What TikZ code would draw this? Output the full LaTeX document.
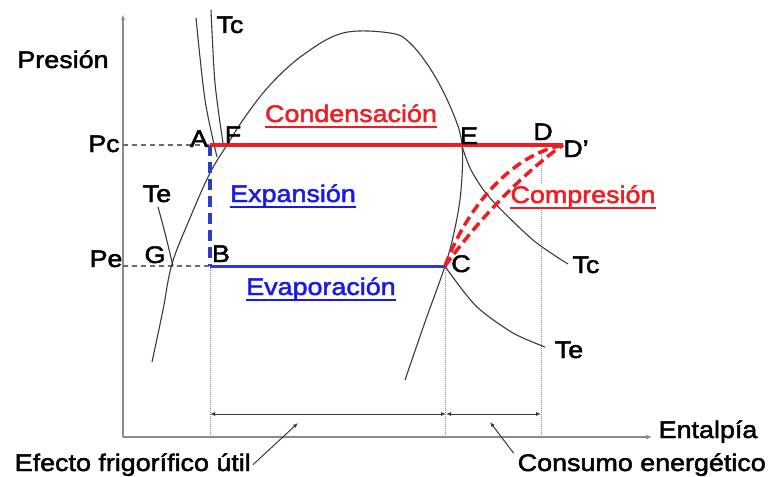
\documentclass[tikz,border=0pt]{standalone}
\usepackage{fontspec}
\setmainfont{Liberation Sans}[FakeStretch=1.12,FakeBold=2]
\usetikzlibrary{arrows.meta,calc}
\definecolor{cond}{HTML}{F01C24}
\definecolor{evap}{HTML}{2E3BD0}
\definecolor{evaptext}{HTML}{1A1AE6}
\definecolor{axisgray}{HTML}{8A8A8A}
\definecolor{curve}{HTML}{3A3A3A}

\begin{document}
\begin{tikzpicture}[x=1pt,y=-1pt,
  font=\fontsize{24}{27}\selectfont,
  lbl/.style={anchor=base,inner sep=0pt},
  guide/.style={axisgray,densely dotted,line width=1pt},
  iso/.style={curve,line width=1.1pt},
  press/.style={curve!75,line width=1.4pt,dash pattern=on 5pt off 4pt},
  dim/.style={curve,line width=1pt,{Latex[length=5pt,width=4pt]}-{Latex[length=5pt,width=4pt]}},
  ptr/.style={curve,line width=1pt,-{Latex[length=5pt,width=4pt]}}]
  \useasboundingbox (0,0) rectangle (770,476);

  % State points
  \coordinate (O) at (123,437);
  \coordinate (ytop) at (123,14);
  \coordinate (xend) at (652,437);
  \coordinate (pcax) at (123,145);
  \coordinate (peax) at (123,266);
  \coordinate (A) at (210,145);
  \coordinate (B) at (210,266);
  \coordinate (C) at (445,266);
  \coordinate (D) at (541,150);
  \coordinate (Dp) at (563,145);

  % Axes
  \draw[axisgray,line width=1.4pt,-{Latex[length=6pt,width=4pt]}] (O) -- (ytop);
  \draw[axisgray,line width=1.4pt,-{Latex[length=6pt,width=5pt]}] (O) -- (xend);
  \draw[press] (pcax) -- (A);
  \draw[press] (peax) -- (B);

  % Guides and widths
  \draw[guide] (B) -- (B |- O);
  \draw[guide] (C) -- (C |- O);
  \draw[guide] (D) -- (D |- O);
  \coordinate (d1) at (210,414);
  \coordinate (d2) at (446,414);
  \coordinate (d3) at (541,414);
  \draw[dim] (d1) -- (d2);
  \draw[dim] (d2) -- (d3);

  % Isotherms
  \draw[iso] plot[smooth] coordinates {(196,18) (205,100) (217,157)};
  \draw[iso] plot[smooth] coordinates {(211,10) (215,83) (223,143)};
  \draw[iso] plot[smooth] coordinates {(158,207) (165,233) (173,266)};
  \draw[iso] plot[smooth] coordinates {(462,146) (471,170) (490,198) (533,240) (568,264)};
  \draw[iso] plot[smooth] coordinates {(445,266) (452,276) (477,307) (513,333) (545,347)};

  % Saturation dome
  \draw[iso] plot[smooth,tension=0.6] coordinates {(152,362) (163,310) (172,264) (190,218)
    (210,173) (227,145) (245,117) (270,85) (303,55) (343,33) (390,33) (410,43) (433,73)
    (453,113) (462,145) (461,190) (455,228) (445,266) (425,322) (405,380)};

  % Cycle
  \draw[evap,line width=3.5pt,dash pattern=on 11pt off 6pt] (A) -- (B);
  \draw[evap,line width=3pt] (B) -- (C);
  \draw[cond,line width=4pt] (A) -- (Dp);

  \node[lbl,cond,fill=white,inner ysep=2pt] (lcomp) at (583,203) {Compresión};
  \draw[cond,line width=3.5pt,dash pattern=on 10pt off 5pt] (C) .. controls (468,205) and (512,155) .. (Dp);
  \draw[cond,line width=3.5pt,dash pattern=on 10pt off 5pt] (C) .. controls (482,215) and (527,170) .. (Dp);

  % Labels
  \node[lbl] (lpres) at (63,68) {Presión};
  \node[lbl] (lent) at (708,438) {Entalpía};
  \node[lbl] (lpc) at (104,152) {Pc};
  \node[lbl] (lpe) at (106,267) {Pe};
  \node[lbl] (ltc1) at (230,33) {Tc};
  \node[lbl] (lte1) at (157,202) {Te};
  \node[lbl] (la) at (199,147) {A};
  \node[lbl] (lf) at (233,143) {F};
  \node[lbl] (lg) at (155,263) {G};
  \node[lbl] (lb) at (221,262) {B};
  \node[lbl] (le) at (469,144) {E};
  \node[lbl] (ld) at (543,140) {D};
  \node[lbl] (ldp) at (576,157) {D'};
  \node[lbl] (lc) at (461,272) {C};
  \node[lbl] (ltc2) at (586,273) {Tc};
  \node[lbl] (lte2) at (569,358) {Te};

  \node[lbl,cond] (lcond) at (351,122) {Condensación};
  \node[lbl,evaptext] (lexp) at (293,202) {Expansión};
  \node[lbl,evaptext] (levap) at (321,295) {Evaporación};
  \foreach \n/\c in {lcond/cond,lcomp/cond,lexp/evaptext,levap/evaptext}
    \draw[\c,line width=1.8pt] ([yshift=-5pt]\n.base west) -- ([yshift=-5pt]\n.base east);

  \node[lbl,anchor=base east] (lefe) at (251,471) {Efecto frigorífico útil};
  \node[lbl,anchor=base east] (lcons) at (766,471) {Consumo energético};
  \coordinate (p1) at (298,423);
  \coordinate (p2) at (490,422);
  \draw[ptr] ([xshift=2pt]lefe.east) -- (p1);
  \draw[ptr] ([xshift=-4pt]lcons.north west) -- (p2);
\end{tikzpicture}
\end{document}
